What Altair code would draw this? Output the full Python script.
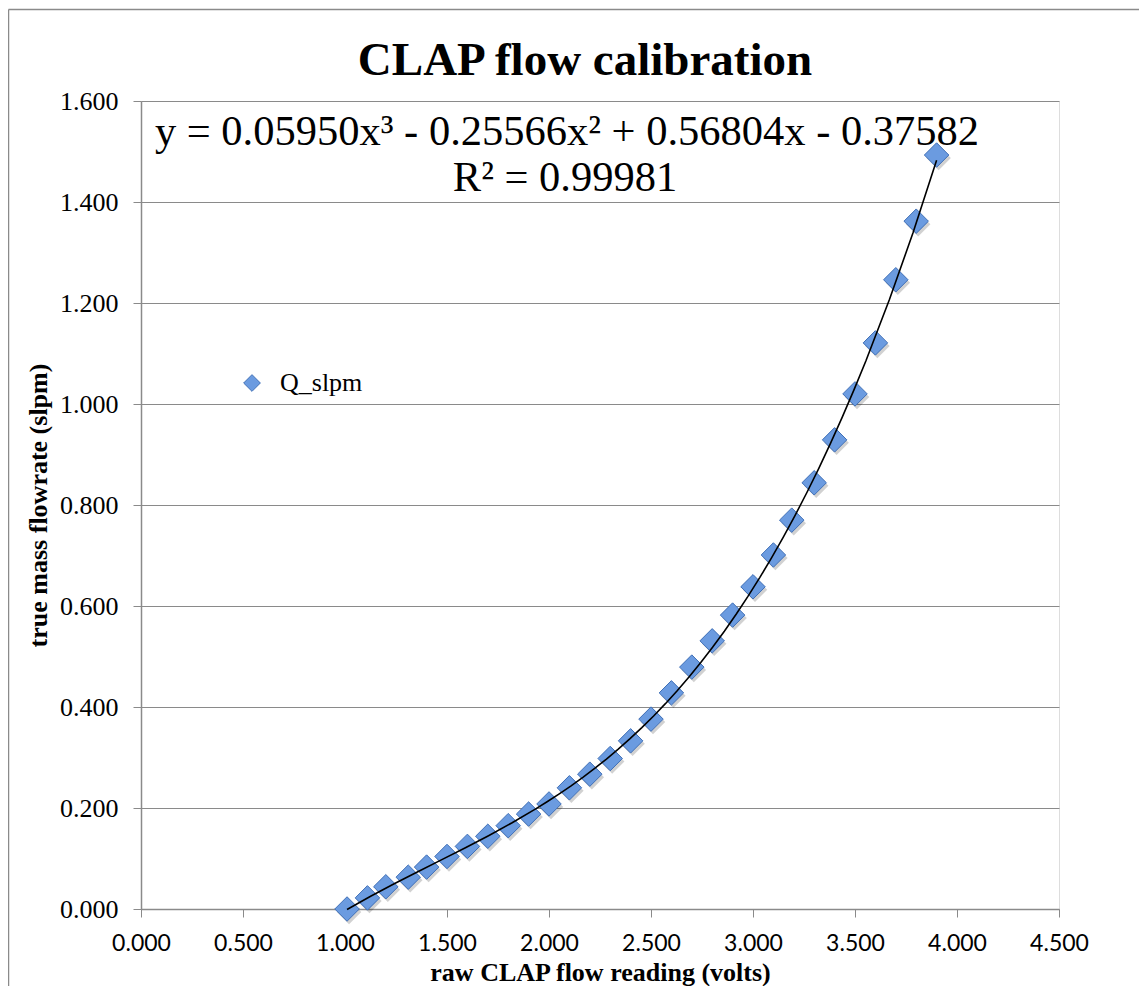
import altair as alt
import pandas as pd

# raw CLAP flow reading (volts)
volts = [1.01, 1.11, 1.20, 1.31, 1.40, 1.50, 1.60, 1.70, 1.80, 1.90,
         2.00, 2.10, 2.20, 2.30, 2.40, 2.50, 2.60, 2.70, 2.80, 2.90,
         3.00, 3.10, 3.19, 3.30, 3.40, 3.50, 3.60, 3.70, 3.80, 3.90]
# true mass flowrate (slpm)
q_slpm = [0.000, 0.022, 0.044, 0.063, 0.083, 0.104, 0.124, 0.144, 0.165, 0.188,
          0.208, 0.240, 0.267, 0.298, 0.333, 0.376, 0.428, 0.479, 0.531, 0.582,
          0.638, 0.701, 0.770, 0.844, 0.929, 1.020, 1.121, 1.246, 1.362, 1.493]
series_name = "Q_slpm"
x_ticks = [0.0, 0.5, 1.0, 1.5, 2.0, 2.5, 3.0, 3.5, 4.0, 4.5]
y_ticks = [0.0, 0.2, 0.4, 0.6, 0.8, 1.0, 1.2, 1.4, 1.6]
title_text = "CLAP flow calibration"
eq_line1 = "y = 0.05950x³ - 0.25566x² + 0.56804x - 0.37582"
eq_line2 = "R² = 0.99981"

df = pd.DataFrame({"x": volts, "y": q_slpm, "series": series_name})

SERIF = "Liberation Serif"
SANS = "Lato"
GRID = "#8a8a8a"

xscale = alt.Scale(domain=[0, 4.5], nice=False, zero=False)
yscale = alt.Scale(domain=[0, 1.6], nice=False, zero=False)

xaxis = alt.Axis(values=x_ticks, format=".3f", grid=False,
                 title="raw CLAP flow reading (volts)",
                 titleFont=SERIF, titleFontSize=26, titleFontWeight="bold",
                 titleColor="black", titleX=459, titleY=71,
                 titleBaseline="alphabetic", titleAlign="center",
                 labelFont=SANS, labelFontSize=23, labelColor="black",
                 labelFlush=False, labelOverlap=False,
                 labelPadding=15, tickSize=8, tickColor=GRID,
                 domainColor=GRID, domainWidth=1.5)
yaxis = alt.Axis(values=y_ticks, format=".3f", grid=True, gridColor=GRID,
                 gridWidth=1.2,
                 title="true mass flowrate (slpm)",
                 titleFont=SERIF, titleFontSize=26, titleFontWeight="bold",
                 titleColor="black", titleX=-95, titleY=404, titleAngle=270,
                 titleBaseline="alphabetic", titleAlign="center",
                 labelFont=SERIF, labelFontSize=26, labelColor="black",
                 labelFlush=False, labelOverlap=False,
                 labelPadding=15, tickSize=8, tickColor=GRID,
                 domainColor=GRID, domainWidth=1.5)

base = alt.Chart(df)

shadow = base.mark_point(shape="diamond", filled=True, size=600,
                         color="#000000", opacity=0.18,
                         xOffset=2, yOffset=3).encode(
    x=alt.X("x:Q", scale=xscale, axis=xaxis),
    y=alt.Y("y:Q", scale=yscale, axis=yaxis),
)

points = base.mark_point(shape="diamond", filled=True, size=600, opacity=1,
                         stroke="#3f6fb6", strokeWidth=1).encode(
    x=alt.X("x:Q", scale=xscale, axis=xaxis),
    y=alt.Y("y:Q", scale=yscale, axis=yaxis),
    color=alt.Color("series:N", scale=alt.Scale(range=["#6b9be0"]),
                    legend=alt.Legend(orient="none", legendX=98, legendY=269,
                                      title=None, padding=0,
                                      labelFont=SERIF, labelFontSize=26,
                                      labelColor="black",
                                      symbolType="diamond", symbolSize=280,
                                      symbolStrokeColor="#3f6fb6",
                                      symbolStrokeWidth=1,
                                      symbolFillColor="#6b9be0",
                                      labelOffset=15)),
)

trend = base.transform_regression("x", "y", method="poly", order=3).mark_line(
    color="black", strokeWidth=1.6).encode(
    x=alt.X("x:Q", scale=xscale, axis=xaxis),
    y=alt.Y("y:Q", scale=yscale, axis=yaxis),
)

def label(text, size, x, y, weight="normal"):
    return alt.Chart(pd.DataFrame({"t": [text]})).mark_text(
        font=SERIF, fontSize=size, fontWeight=weight, color="black",
        align="center", baseline="alphabetic").encode(
        text="t:N", x=alt.value(x), y=alt.value(y))

title = label(title_text, 47, 444, -26, "bold")
eq1 = label(eq_line1, 42.5, 426, 44)
eq2 = label(eq_line2, 42.5, 424, 90)

border_left = alt.Chart(pd.DataFrame({"a": [0]})).mark_rule(
    color="#8a8a8a", strokeWidth=1.5).encode(
    x=alt.value(-132.5), y=alt.value(-91.5), y2=alt.value(885))
border_top = alt.Chart(pd.DataFrame({"a": [0]})).mark_rule(
    color="#8a8a8a", strokeWidth=1.5).encode(
    x=alt.value(-132.5), x2=alt.value(1000), y=alt.value(-91.5))

chart = alt.layer(border_left, border_top, shadow, points, trend,
                  title, eq1, eq2).properties(
    width=918, height=808,
    autosize=alt.AutoSizeParams(type="none"),
    padding={"left": 133, "top": 93, "right": 80, "bottom": 77},
).configure_view(stroke=None).configure(
    background="white"
).configure_axisX(labelFont=SANS, labelFontSize=23).configure_axisY(
    labelFont=SERIF, labelFontSize=26)

chart.save("out.html", embed_options={"renderer": "svg", "actions": False})
